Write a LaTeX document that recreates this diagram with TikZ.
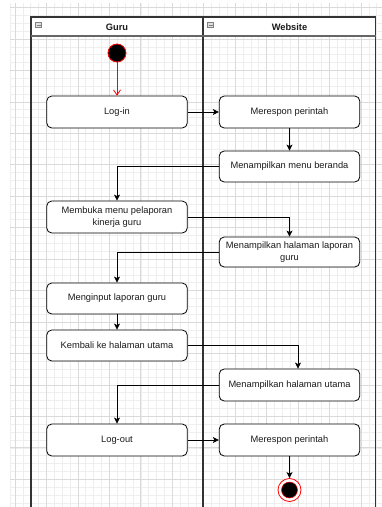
\documentclass[tikz,border=0pt]{standalone}
\usepackage{fontspec}
\setmainfont{Liberation Sans}
\usetikzlibrary{arrows.meta}
\definecolor{gminor}{HTML}{EEEEEE}
\definecolor{gmajor}{HTML}{DADADA}
\definecolor{lanecol}{HTML}{333333}
\definecolor{txt}{HTML}{1A1A1A}
\begin{document}
\begin{tikzpicture}[x=1pt,y=-1pt,
  minorgrid/.style={draw=gminor,line width=0.6pt},
  majorgrid/.style={draw=gmajor,line width=0.7pt},
  lane/.style={draw=lanecol,line width=1.2pt},
  lanetitle/.style={font=\fontsize{9.3}{11}\selectfont\bfseries,text=txt},
  act/.style={draw=black,line width=0.8pt,fill=white,rounded corners=5pt,
    minimum width=140.5pt,minimum height=32pt,inner sep=2pt,align=center,
    text=txt,font=\fontsize{9.3}{11.5}\selectfont},
  arr/.style={draw=black,line width=0.8pt,-{Stealth[length=6pt,width=6pt,inset=1.5pt]}},
  redarr/.style={draw=red,line width=0.8pt,-{Straight Barb[length=5pt,width=7pt]}},
  startnode/.style={circle,draw=red,line width=0.8pt,fill=black,minimum size=18pt,inner sep=0pt},
  endouter/.style={circle,draw=red,line width=0.8pt,fill=white,minimum size=23pt,inner sep=0pt},
  endinner/.style={circle,draw=red,line width=0.5pt,fill=black,minimum size=16pt,inner sep=0pt},
  icon/.style={draw=gray,fill=gray!25,line width=0.5pt}
]
\useasboundingbox (0,0) rectangle (382,507);
\fill[white] (0,0) rectangle (382,507);
% grid
\foreach \j in {0,...,46} {
  \draw[minorgrid] ({15+\j*7.8625},3) -- ({15+\j*7.8625},507);
}
\draw[minorgrid] (10,3) -- (10,507);
\foreach \j in {0,...,63} {
  \draw[minorgrid] (10,{7.5+\j*7.8625}) -- (382,{7.5+\j*7.8625});
}
\foreach \j in {0,...,11} {
  \draw[majorgrid] ({15+\j*31.45},3) -- ({15+\j*31.45},507);
}
\foreach \j in {0,...,15} {
  \draw[majorgrid] (10,{7.5+\j*31.45}) -- (382,{7.5+\j*31.45});
}
% swimlanes
\fill[white] (31,17) rectangle (375.5,36);
\draw[lane] (31,510) -- (31,17) -- (375.5,17) -- (375.5,510);
\draw[lane] (203,17) -- (203,510);
\draw[draw=gray!80!black,line width=1.2pt] (31,36) -- (375.5,36);
\node[lanetitle] (guru) at (117,27) {Guru};
\node[lanetitle] (web) at (289.5,27) {Website};
\draw[icon] (35.5,22) rectangle (41.5,27.5);
\draw[gray,line width=0.5pt] (36.5,24.75) -- (40.5,24.75);
\draw[icon] (207.5,22) rectangle (213.5,27.5);
\draw[gray,line width=0.5pt] (208.5,24.75) -- (212.5,24.75);
% nodes
\node[startnode] (start) at (117,53) {};
\node[act] (login) at (117,112) {Log-in};
\node[act] (resp1) at (289.5,112) {Merespon perintah};
\node[act,minimum height=31pt] (beranda) at (289.5,166.5) {Menampilkan menu beranda};
\node[act] (membuka) at (117,217) {Membuka menu pelaporan\\kinerja guru};
\node[act,minimum height=30pt] (lap) at (289.5,252) {Menampilkan halaman laporan\\guru};
\node[act,minimum height=31pt] (input) at (117,298.5) {Menginput laporan guru};
\node[act,minimum height=31pt] (kembali) at (117,345.5) {Kembali ke halaman utama};
\node[act] (utama) at (289.5,385) {Menampilkan halaman utama};
\node[act] (logout) at (117,440) {Log-out};
\node[act] (resp2) at (289.5,440) {Merespon perintah};
\node[endouter] (end) at (289.5,490) {};
\node[endinner] (endin) at (end) {};
% connectors
\draw[redarr] (start) -- (login);
\draw[arr] (login) -- (resp1);
\draw[arr] (resp1) -- (beranda);
\draw[arr] (beranda.west) -| (membuka.north);
\draw[arr] (membuka.east) -| (lap.north);
\draw[arr] (lap.west) -| (input.north);
\draw[arr] (input) -- (kembali);
\draw[arr] (kembali.east) -| ([xshift=8.5pt]utama.north);
\draw[arr] (utama.west) -| (logout.north);
\draw[arr] (logout) -- (resp2);
\draw[arr] (resp2) -- (end);
\end{tikzpicture}
\end{document}
